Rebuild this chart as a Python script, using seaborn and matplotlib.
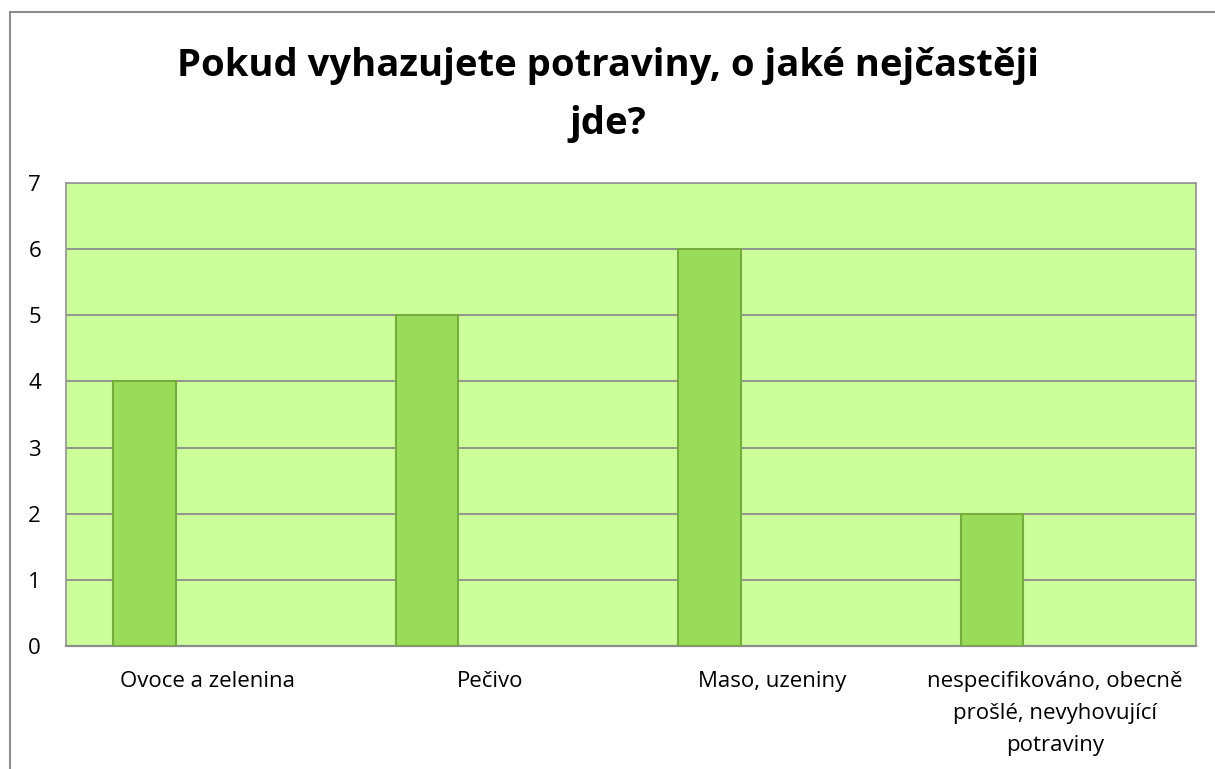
import matplotlib
matplotlib.use("Agg")
import matplotlib.pyplot as plt
import seaborn as sns
from matplotlib.lines import Line2D

categories = ["Ovoce a zelenina", "Pečivo", "Maso, uzeniny",
              "nespecifikováno, obecně\nprošlé, nevyhovující\npotraviny"]
values = [4, 5, 6, 2]
yticks = [0, 1, 2, 3, 4, 5, 6, 7]
title = "Pokud vyhazujete potraviny, o jaké nejčastěji\njde?"

sns.set_theme(style="white")
plt.rcParams['font.family'] = ['Open Sans', 'DejaVu Sans']
plt.rcParams['text.color'] = 'black'
plt.rcParams['xtick.color'] = 'black'
plt.rcParams['ytick.color'] = 'black'

W, H = 1215, 769
fig = plt.figure(figsize=(W / 100, H / 100), dpi=100)
ax = fig.add_axes([66 / W, 1 - 646 / H, (1196 - 66) / W, (646 - 183) / H])
ax.set_facecolor("#CCFF99")

bw = 1 / 4.5
sns.barplot(x=categories, y=values, width=bw, color="#9BDB5A",
            edgecolor="#74AD3E", linewidth=1.5, saturation=1, ax=ax, zorder=3)
for p in ax.patches:
    p.set_x(p.get_x() - bw)

ax.set_xlim(-0.5, len(categories) - 0.5)
ax.set_ylim(0, 7)
ax.set_yticks(yticks)
ax.yaxis.grid(True, color="#8C8C8C", linewidth=1.3, zorder=0)
ax.set_axisbelow(True)
for s in ["top", "right", "left"]:
    ax.spines[s].set_color("#9A9A9A")
    ax.spines[s].set_linewidth(1.3)
ax.spines["bottom"].set_color("#8C8C8C")
ax.spines["bottom"].set_linewidth(1.6)
ax.tick_params(axis="y", length=0, pad=18, labelsize=16, labelcolor="black")
ax.tick_params(axis="x", length=0, pad=18, labelsize=16, labelcolor="black")
for t in ax.get_xticklabels():
    t.set_horizontalalignment("center")
    t.set_multialignment("center")
    t.set_linespacing(1.7)
ax.set_xlabel("")
ax.set_ylabel("")

fig.text(0.5 * (66 + 1196) / W - 0.019, 1 - 95 / H, title, ha="center", va="center",
         fontsize=27.5, fontweight="bold", linespacing=1.7, color="black")

fig.add_artist(Line2D([10 / W, 10 / W], [0, 1 - 12 / H], transform=fig.transFigure,
                      color="#8C8C8C", linewidth=1.5))
fig.add_artist(Line2D([10 / W, 1], [1 - 12 / H, 1 - 12 / H], transform=fig.transFigure,
                      color="#8C8C8C", linewidth=1.5))

fig.savefig("out.png", dpi=100)
